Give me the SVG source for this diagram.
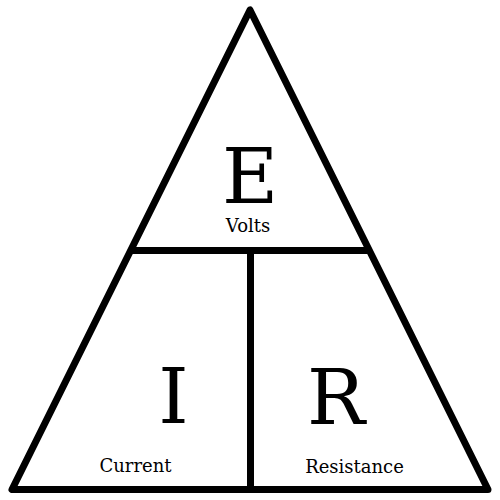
<svg xmlns="http://www.w3.org/2000/svg" width="500" height="500" viewBox="0 0 500 500">
<style>
.ln{fill:none;stroke:#000;stroke-width:7}
.big{font-family:"DejaVu Serif",serif;font-size:77px;text-anchor:middle;fill:#000}
.sm{font-family:"DejaVu Serif",serif;font-size:18px;text-anchor:middle;fill:#000}
</style>
<rect width="500" height="500" fill="#fff"/>
<g id="connectors">
<polygon class="ln" points="250,10 12,489.5 488,489.5" stroke-linejoin="round"/>
<line class="ln" x1="130" y1="250.5" x2="370" y2="250.5"/>
<line class="ln" x1="250.5" y1="250.5" x2="250.5" y2="489.5"/>
</g>
<g id="E"><text class="big" x="250" y="203">E</text><text class="sm" x="248" y="232">Volts</text></g>
<g id="I"><text class="big" x="173.5" y="423">I</text><text class="sm" x="135.5" y="472">Current</text></g>
<g id="R"><text class="big" x="336" y="424">R</text><text class="sm" x="354.5" y="473">Resistance</text></g>
</svg>
